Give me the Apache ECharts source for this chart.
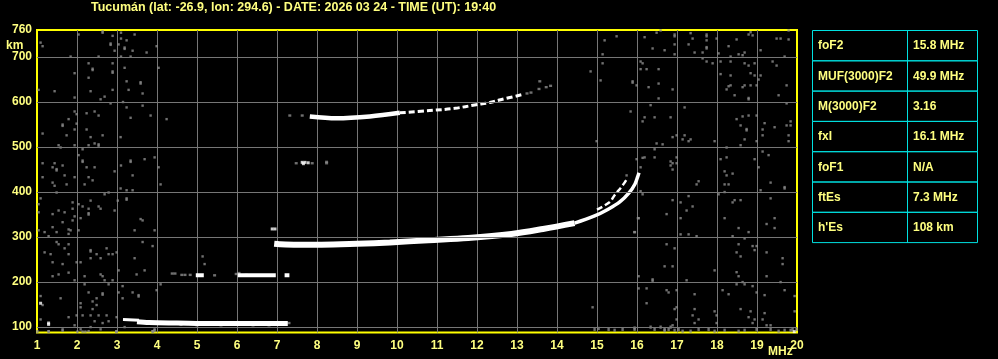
<!DOCTYPE html>
<html><head><meta charset="utf-8">
<script src="https://cdn.jsdelivr.net/npm/echarts@6/dist/echarts.min.js"></script>
<style>html,body{margin:0;padding:0;background:#000;}#c{width:998px;height:359px;}</style>
</head><body><div id="c"></div>
<script>
const titleText = 'Tucumán (lat: -26.9, lon: 294.6) - DATE: 2026 03 24 - TIME (UT): 19:40';
const freqMin = 1, freqMax = 20, freqStep = 1;
const heightMin = 88, heightMax = 760;
const heightTicks = [100, 200, 300, 400, 500, 600, 700, 760];
const heightGrid = [100, 200, 300, 400, 500, 600, 700];
const xUnit = 'MHz', yUnit = 'km';
const tableLabels = ['foF2', 'MUF(3000)F2', 'M(3000)F2', 'fxI', 'foF1', 'ftEs', "h'Es"];
const tableValues = ['15.8 MHz', '49.9 MHz', '3.16', '16.1 MHz', 'N/A', '7.3 MHz', '108 km'];

// Echo traces (MHz, km)
const esStart = [[3.15, 117], [3.55, 115]];
const esMain = [[3.5, 112], [3.8, 110], [4.5, 109], [5.5, 108], [6.5, 108], [7.27, 108]];
const es2Segments = [
  [[4.97, 215], [5.17, 215]],
  [[6.02, 215], [6.97, 215]],
  [[7.19, 215], [7.31, 215]]
];
const f2Low = [[6.93, 285], [7.07, 284], [7.5, 283], [8.11, 283], [9.0, 285], [9.82, 288], [10.78, 293], [11.78, 298], [12.86, 307], [13.65, 318], [14.44, 331]];
const f2High = [[14.44, 331], [14.94, 347], [15.28, 362], [15.57, 378], [15.8, 398], [15.95, 418], [16.02, 435], [16.05, 443]];
const f2xTrace = [[15.0, 361], [15.32, 378], [15.44, 393], [15.6, 410], [15.69, 421], [15.74, 428]];
const hop2a = [[7.82, 568], [8.49, 564], [9.32, 568], [10.07, 576]];
const hop2b = [[10.07, 576], [10.82, 581], [11.44, 586], [11.98, 594], [12.32, 599], [12.59, 605], [13.11, 616]];

const whiteDots = [[1.09, 153], [1.29, 109], [1.29, 106], [19.93, 90], [6.88, 318], [6.95, 318], [7.63, 466], [7.7, 466], [7.78, 465], [7.66, 463]];

const traceHalo = [[7.48, 464], [7.88, 464], [8.24, 464], [8.24, 467], [4.38, 219], [4.45, 219], [4.62, 216], [4.7, 216], [4.83, 216], [5.44, 215], [5.98, 218], [6.05, 220], [6.23, 216], [7.32, 570], [7.63, 570], [13.25, 619], [13.35, 621], [13.55, 629], [13.73, 633], [13.84, 636], [13.57, 646], [15.94, 311], [16.03, 342], [3.8, 108], [4.6, 105], [5.0, 104], [5.6, 104], [6.4, 104], [6.8, 104], [7.3, 109]];

const noiseUpperLeft = [[2.04,750],[2.64,757],[2.64,754],[2.89,747],[3.10,754],[3.44,750],[1.09,732],[1.14,724],[2.84,730],[2.84,727],[3.04,728],[3.10,741],[3.24,737],[3.19,721],[3.19,718],[2.94,714],[3.39,714],[3.74,710],[3.99,724],[1.84,701],[2.54,701],[3.10,701],[3.34,701],[2.29,686],[2.39,674],[2.39,671],[2.89,686],[2.89,668],[2.89,665],[3.19,676],[4.04,676],[1.94,664],[2.29,654],[3.24,646],[3.59,644],[3.59,641],[1.04,627],[1.44,624],[2.34,624],[2.89,627],[3.29,627],[3.64,619],[1.94,610],[2.69,612],[2.59,606],[2.84,597],[3.15,600],[3.24,588],[3.64,592],[1.94,579],[1.99,573],[2.24,575],[2.44,579],[2.54,570],[1.79,562],[1.64,550],[1.64,547],[1.99,552],[1.14,530],[1.94,539],[2.24,539],[1.74,526],[2.34,522],[2.64,526],[3.09,522],[3.34,565],[3.84,570],[4.24,562],[1.54,504],[1.59,499],[1.94,504],[2.14,495],[2.44,508],[2.54,506],[2.54,503],[2.29,504],[2.04,482],[2.14,470],[2.14,467],[1.14,464],[1.44,464],[1.39,455],[1.49,448],[1.49,451],[1.64,459],[2.24,455],[2.44,455],[2.94,446],[3.10,459],[3.34,470],[3.34,467],[3.69,473],[3.94,477],[4.04,455],[1.69,437],[1.14,433],[1.94,433],[2.29,433],[3.39,437]];

const noiseLowerLeft = [[1.39,421],[1.44,414],[1.74,417],[2.19,417],[2.39,426],[3.09,408],[3.24,404],[3.39,404],[4.09,417],[1.49,399],[1.09,386],[1.04,373],[1.89,377],[2.04,373],[2.34,381],[2.69,395],[2.79,399],[3.24,386],[3.24,383],[3.02,381],[1.04,355],[1.39,351],[1.54,359],[1.69,355],[1.89,363],[2.14,368],[2.29,363],[2.29,353],[2.29,350],[2.54,368],[2.59,363],[2.94,359],[1.94,346],[2.09,342],[1.89,337],[1.64,333],[3.59,340],[3.64,337],[1.04,315],[1.19,311],[1.39,322],[1.49,311],[1.79,317],[1.84,315],[1.79,307],[2.04,315],[3.44,315],[3.94,315],[1.29,302],[1.49,289],[1.54,284],[1.79,284],[1.69,275],[1.19,266],[1.34,262],[1.79,262],[2.34,271],[2.34,268],[2.34,253],[2.49,262],[2.74,275],[2.79,262],[2.89,262],[2.99,266],[3.64,289],[3.89,280],[3.44,253],[2.59,253],[1.39,244],[1.64,240],[1.99,244],[2.09,244],[3.04,226],[3.69,226],[3.49,217],[1.79,221],[1.54,217],[1.39,213],[2.19,213],[2.59,217],[2.64,213],[2.89,204],[2.79,195],[1.94,204],[2.19,195],[2.69,204],[3.14,191],[4.09,195],[5.14,257],[5.19,240],[1.09,169],[1.59,164],[2.29,177],[2.64,175],[2.64,172],[3.04,177],[3.14,164],[3.39,177],[3.54,171],[3.54,168],[3.99,182],[2.49,164],[2.09,153],[2.09,144],[2.39,157],[2.49,149],[2.39,140],[1.14,149],[1.79,122],[1.99,126],[2.14,126],[2.34,126],[2.54,126],[2.74,126],[2.44,113],[2.64,109],[2.79,113],[2.99,122],[1.09,117],[1.94,104],[2.09,95],[2.29,91],[2.59,95],[1.64,95],[1.29,91],[2.99,91],[3.19,100],[3.89,91],[3.94,95],[2.34,100],[2.01,90],[2.14,90],[2.21,90],[1.64,92]];

const noiseUpperRight = [[15.19,737],[15.49,746],[15.14,706],[16.19,744],[16.49,754],[16.59,759],[16.94,750],[16.94,746],[16.94,728],[17.34,753],[17.29,728],[17.39,741],[17.74,750],[17.74,746],[17.74,737],[17.74,719],[17.74,722],[16.39,719],[16.69,715],[16.94,706],[17.44,710],[17.64,710],[18.04,708],[17.99,741],[18.29,724],[18.49,739],[18.79,750],[18.89,748],[18.84,755],[19.09,715],[19.49,741],[19.59,741],[19.79,739],[19.79,759],[18.54,706],[18.64,704],[18.69,710],[18.34,701],[19.69,701],[15.14,686],[14.84,668],[15.09,648],[15.89,646],[15.89,643],[16.09,690],[16.14,686],[16.09,673],[16.24,673],[16.54,673],[15.99,637],[16.29,633],[16.54,641],[16.89,628],[16.54,608],[17.64,697],[17.74,690],[17.89,686],[18.09,690],[18.34,690],[18.69,686],[18.79,681],[18.94,686],[19.39,690],[19.49,681],[18.09,662],[18.34,659],[18.84,664],[18.94,659],[19.09,659],[19.04,650],[18.29,635],[18.24,628],[18.34,637],[18.64,633],[18.69,637],[18.84,637],[18.99,637],[18.44,615],[18.79,606],[18.79,609],[19.54,615],[19.74,637],[19.74,597],[16.34,593],[15.84,579],[17.19,588],[16.19,566],[16.44,566],[16.84,566],[16.14,557],[16.89,522],[16.99,526],[17.19,526],[17.14,517],[17.34,517],[17.29,513],[17.94,513],[16.49,508],[16.64,506],[14.99,513],[18.49,562],[18.64,568],[18.79,570],[18.99,570],[19.19,553],[18.59,548],[18.74,537],[18.74,540],[19.14,539],[19.44,544],[19.74,548],[19.84,557],[19.84,548],[19.14,526],[19.79,526],[18.69,517],[18.99,513],[19.79,513],[18.59,504],[18.24,499],[19.14,490],[19.29,482],[18.94,473],[18.24,477],[18.09,473],[18.19,446],[18.24,437],[18.39,441],[19.04,455],[15.99,473],[16.19,477],[16.14,476],[16.44,477],[16.09,455],[16.44,495],[16.84,468],[16.89,464],[16.84,459],[16.99,477],[16.99,464],[16.89,450],[15.74,437]];

const noiseLowerRight = [[16.09,402],[16.14,395],[16.89,382],[17.09,377],[17.29,391],[17.49,417],[17.54,424],[17.24,359],[17.39,368],[16.74,351],[16.04,342],[15.94,311],[17.09,342],[17.09,306],[17.29,306],[17.49,302],[18.04,395],[18.19,417],[18.29,417],[18.19,400],[18.44,382],[18.39,377],[18.59,382],[18.19,342],[18.54,320],[18.79,311],[18.69,297],[18.39,302],[19.09,404],[19.34,421],[19.69,411],[19.69,408],[19.34,386],[19.24,329],[19.44,342],[19.44,320],[16.74,284],[16.94,275],[18.54,284],[18.89,280],[18.99,280],[18.94,271],[18.49,266],[18.59,257],[19.24,266],[19.64,253],[19.64,240],[16.69,235],[16.89,235],[17.94,226],[16.04,213],[16.39,206],[16.39,203],[17.24,204],[18.49,222],[18.54,213],[18.64,200],[18.69,195],[18.49,195],[18.89,191],[19.24,213],[19.59,200],[16.04,186],[16.24,186],[16.74,182],[16.79,177],[16.99,182],[17.44,173],[18.14,182],[18.29,173],[18.99,177],[19.19,171],[19.69,182],[19.94,169],[14.89,144],[16.24,153],[16.94,140],[16.99,144],[17.94,135],[17.99,126],[17.44,140],[17.39,126],[17.54,117],[16.99,117],[18.59,140],[18.84,135],[18.79,122],[18.94,117],[18.89,109],[19.19,131],[19.14,117],[19.24,104],[19.34,104],[19.94,135],[17.44,109],[17.99,109],[16.89,104]];

const noiseFloor = [[14.94,95],[15.04,97],[15.29,95],[15.44,93],[15.64,95],[15.94,95],[15.94,98],[16.34,100],[16.44,95],[16.59,100],[16.69,95],[16.69,92],[16.79,95],[16.84,100],[16.94,93],[17.04,95],[17.14,91],[17.34,91],[17.54,95],[17.79,95],[17.94,91],[18.19,93],[18.54,91],[18.69,93],[18.99,95],[19.34,95],[19.54,91],[19.69,93],[19.84,93],[19.89,95],[19.99,95],[1.01,90],[1.29,90],[2.98,90],[3.94,92],[3.89,90]];

const textColor = '#ffff80';
const frameColor = '#ffff00';
const gridColor = '#767676';
const noiseColor = '#8c8c8c';
const tableColor = '#00e0e0';
const fontFamily = '"Liberation Sans", Arial, sans-serif';

const chart = echarts.init(document.getElementById('c'), null, {renderer: 'canvas'});

function lineSeries(data, width, dashed) {
  return {
    type: 'line', data: data, symbol: 'none', smooth: 0.35, z: 4, silent: true,
    lineStyle: {color: '#ffffff', width: width, type: dashed ? [6, 3] : 'solid', cap: 'butt'}
  };
}
function dotSeries(data, color, size, z) {
  return {type: 'scatter', data: data, symbol: 'rect', symbolSize: size, z: z, silent: true,
    itemStyle: {color: color}};
}

const series = [
  {type: 'line', data: [], z: 1, silent: true,
   markLine: {silent: true, symbol: 'none', label: {show: false}, animation: false,
     lineStyle: {color: gridColor, width: 1, type: 'solid'},
     data: heightGrid.map(v => ({yAxis: v}))}},
  dotSeries(noiseUpperLeft, noiseColor, [2.4, 2.4], 2),
  dotSeries(noiseLowerLeft, noiseColor, [2.4, 2.4], 2),
  dotSeries(noiseUpperRight, noiseColor, [2.4, 2.4], 2),
  dotSeries(noiseLowerRight, noiseColor, [2.4, 2.4], 2),
  dotSeries(noiseFloor, noiseColor, [2.4, 3.2], 2),
  dotSeries(traceHalo, noiseColor, [3, 2.4], 3),
  lineSeries(esStart, 3),
  lineSeries(esMain, 5),
  ...es2Segments.map(s => lineSeries(s, 4)),
  lineSeries(f2Low, 6),
  lineSeries(f2High, 3.5),
  lineSeries(f2xTrace, 2.5, true),
  lineSeries(hop2a, 4.5),
  lineSeries(hop2b, 3, true),
  dotSeries(whiteDots, '#ffffff', [3, 3], 5)
];

// table graphics
const tLeft = 812.5, tTop = 30.5, tRight = 977.5, tSplit = 907.5, rowH = 30.3;
const tableEls = [];
tableLabels.forEach((lab, i) => {
  const y = tTop + i * rowH;
  tableEls.push({type: 'rect', shape: {x: tLeft, y: y, width: tRight - tLeft, height: rowH},
    style: {fill: 'none', stroke: tableColor, lineWidth: 1}});
  tableEls.push({type: 'text', x: 818, y: y + rowH / 2 + 0.5,
    style: {text: lab, fill: textColor, font: 'bold 12px ' + fontFamily, verticalAlign: 'middle'}});
  tableEls.push({type: 'text', x: 913, y: y + rowH / 2 + 0.5,
    style: {text: tableValues[i], fill: textColor, font: 'bold 12px ' + fontFamily, verticalAlign: 'middle'}});
});
tableEls.push({type: 'line', shape: {x1: tSplit, y1: tTop, x2: tSplit, y2: tTop + rowH * tableLabels.length},
  style: {stroke: tableColor, lineWidth: 1}});

chart.setOption({
  backgroundColor: '#000000',
  animation: false,
  grid: {left: 37, top: 30, width: 760, height: 302.5, show: true,
    borderColor: frameColor, borderWidth: 2, backgroundColor: '#000000'},
  xAxis: {type: 'value', min: freqMin, max: freqMax, interval: freqStep,
    axisLine: {show: false}, axisTick: {show: false},
    axisLabel: {color: textColor, fontSize: 12, fontWeight: 'bold', fontFamily: fontFamily, margin: 7},
    splitLine: {show: true, showMinLine: false, showMaxLine: false, lineStyle: {color: gridColor, width: 1}}},
  yAxis: {type: 'value', min: heightMin, max: heightMax,
    axisLine: {show: false}, axisTick: {show: false},
    axisLabel: {customValues: heightTicks, color: textColor, fontSize: 12, fontWeight: 'bold', fontFamily: fontFamily, margin: 5},
    splitLine: {show: false}},
  graphic: [
    {type: 'text', x: 91, y: 7.5, style: {text: titleText, fill: textColor, font: 'bold 12.5px ' + fontFamily, verticalAlign: 'middle'}},
    {type: 'text', x: 6, y: 45.5, style: {text: yUnit, fill: textColor, font: 'bold 12px ' + fontFamily, verticalAlign: 'middle'}},
    {type: 'text', x: 768, y: 352, style: {text: xUnit, fill: textColor, font: 'bold 12px ' + fontFamily, verticalAlign: 'middle'}},
    ...tableEls
  ],
  series: series
});
</script></body></html>
